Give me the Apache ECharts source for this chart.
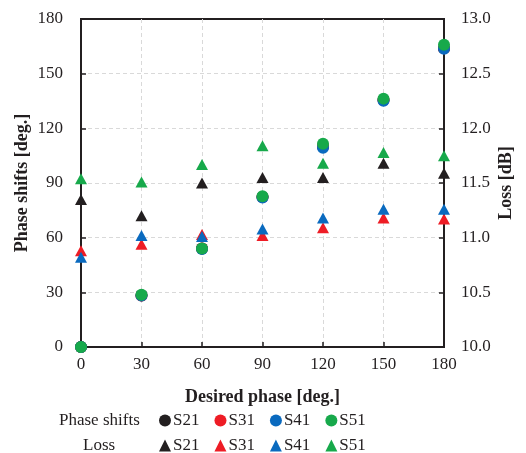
<!DOCTYPE html>
<html><head><meta charset="utf-8">
<script src="https://cdn.jsdelivr.net/npm/echarts@6/dist/echarts.min.js"></script>
<style>html,body{margin:0;padding:0;background:#fff}#c{width:526px;height:453px}</style>
</head><body><div id="c"></div>
<script>
const desired = [0, 30, 60, 90, 120, 150, 180];
const phaseS21 = [0, 28.3, 54.0, 82.3, 110.0, 135.5, 164.0];
const phaseS31 = [0, 28.3, 54.0, 82.3, 110.0, 135.5, 164.0];
const phaseS41 = [0, 28.2, 53.8, 82.0, 109.4, 135.2, 163.7];
const phaseS51 = [0, 28.7, 54.0, 82.7, 111.6, 136.3, 165.9];
const lossS21 = [11.35, 11.20, 11.50, 11.55, 11.55, 11.68, 11.59];
const lossS31 = [10.88, 10.94, 11.03, 11.02, 11.09, 11.18, 11.17];
const lossS41 = [10.82, 11.02, 11.01, 11.08, 11.18, 11.26, 11.26];
const lossS51 = [11.54, 11.51, 11.67, 11.84, 11.68, 11.78, 11.75];

const colors = {S21: '#231f20', S31: '#ee1c25', S41: '#0a6abf', S51: '#17a94b'};
const FONT = 'Liberation Serif';
const zip = (a) => desired.map((x, i) => [x, a[i]]);

function circ(name, data, color) {
  return {name: 'P ' + name, type: 'scatter', yAxisIndex: 0, symbol: 'circle', symbolSize: 12,
    itemStyle: {color: color, opacity: 1}, data: zip(data), emphasis: {disabled: true}};
}
function tri(name, data, color) {
  return {name: 'L ' + name, type: 'scatter', yAxisIndex: 1, symbol: 'triangle', symbolSize: [12, 11],
    itemStyle: {color: color, opacity: 1}, data: zip(data), emphasis: {disabled: true}};
}

const chart = echarts.init(document.getElementById('c'), null, {renderer: 'canvas'});
const axisText = {fontFamily: FONT, fontSize: 17, color: '#231f20'};
const nameText = {fontFamily: FONT, fontSize: 18, fontWeight: 'bold', color: '#231f20'};
const splitStyle = {show: true, showMinLine: false, showMaxLine: false, lineStyle: {color: '#d9d9d9', type: [4, 3], width: 1}};
const legendCommon = {
  orient: 'horizontal', left: 154, itemWidth: 12, itemHeight: 12, itemGap: 15,
  textStyle: {fontFamily: FONT, fontSize: 17, color: '#231f20', padding: [0, 0, 0, -3]},
  formatter: (n) => n.split(' ')[1], selectedMode: false
};
chart.setOption({
  animation: false,
  grid: {left: 81, right: 82, top: 19, bottom: 106, show: true, borderColor: '#231f20', borderWidth: 2, backgroundColor: 'transparent'},
  xAxis: {
    type: 'value', min: 0, max: 180, interval: 30,
    name: 'Desired phase [deg.]', nameLocation: 'middle', nameGap: 41, nameMoveOverlap: false, nameTextStyle: nameText,
    axisLine: {show: true, lineStyle: {color: '#231f20', width: 2}},
    axisTick: {show: true, inside: true, length: 5, lineStyle: {color: '#231f20', width: 1.5}},
    axisLabel: Object.assign({margin: 9}, axisText),
    splitLine: splitStyle
  },
  yAxis: [
    {type: 'value', min: 0, max: 180, interval: 30, position: 'left',
      name: 'Phase shifts [deg.]', nameLocation: 'middle', nameGap: 50, nameMoveOverlap: false, nameRotate: 90, nameTextStyle: nameText,
      axisLine: {show: true, lineStyle: {color: '#231f20', width: 2}},
      axisTick: {show: true, inside: true, length: 5, lineStyle: {color: '#231f20', width: 1.5}},
      axisLabel: Object.assign({margin: 18}, axisText),
      splitLine: splitStyle},
    {type: 'value', min: 10, max: 13, interval: 0.5, position: 'right',
      name: 'Loss [dB]', nameLocation: 'middle', nameGap: 53, nameMoveOverlap: false, nameRotate: 90, nameTextStyle: nameText,
      axisLine: {show: true, lineStyle: {color: '#231f20', width: 2}},
      axisTick: {show: true, inside: true, length: 5, lineStyle: {color: '#231f20', width: 1.5}},
      axisLabel: Object.assign({margin: 17, formatter: (v) => v.toFixed(1)}, axisText),
      splitLine: {show: false}}
  ],
  legend: [
    Object.assign({top: 407, icon: 'circle', data: ['P S21', 'P S31', 'P S41', 'P S51']}, legendCommon),
    Object.assign({top: 432, icon: 'triangle', data: ['L S21', 'L S31', 'L S41', 'L S51']}, legendCommon)
  ],
  graphic: [
    {type: 'text', left: 59, top: 412, style: {text: 'Phase shifts', font: '17px "Liberation Serif"', fill: '#231f20'}},
    {type: 'text', left: 83, top: 437, style: {text: 'Loss', font: '17px "Liberation Serif"', fill: '#231f20'}}
  ],
  series: [
    circ('S21', phaseS21, colors.S21),
    circ('S31', phaseS31, colors.S31),
    circ('S41', phaseS41, colors.S41),
    circ('S51', phaseS51, colors.S51),
    tri('S21', lossS21, colors.S21),
    tri('S31', lossS31, colors.S31),
    tri('S41', lossS41, colors.S41),
    tri('S51', lossS51, colors.S51)
  ]
});
</script></body></html>
